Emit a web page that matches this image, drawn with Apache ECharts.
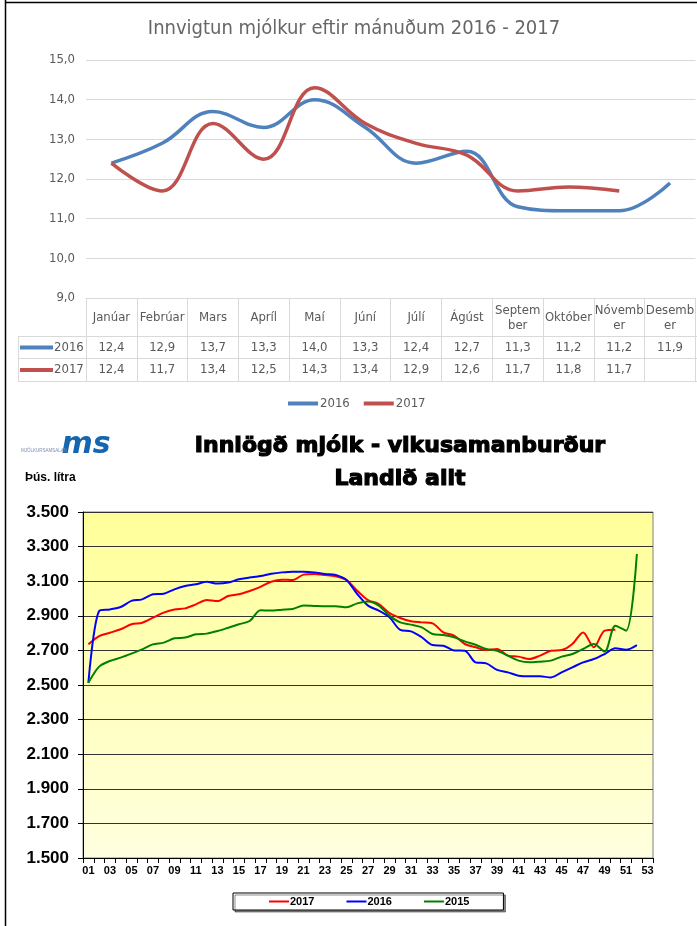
<!DOCTYPE html>
<html><head><meta charset="utf-8">
<script src="https://cdn.jsdelivr.net/npm/echarts@6/dist/echarts.min.js"></script>
<style>html,body{margin:0;padding:0;background:#fff}#c{width:697px;height:926px}</style>
</head><body><div id="c"></div>
<script>
// ---------- Data: monthly chart ----------
const months = ['Janúar','Febrúar','Mars','Apríl','Maí','Júní','Júlí','Ágúst','September','Október','Nóvember','Desember'];
const monthly2016 = [12.4, 12.9, 13.7, 13.3, 14.0, 13.3, 12.4, 12.7, 11.3, 11.2, 11.2, 11.9];
const monthly2017 = [12.4, 11.7, 13.4, 12.5, 14.3, 13.4, 12.9, 12.6, 11.7, 11.8, 11.7, null];

// ---------- Data: weekly chart ----------
const weeks = ['01','02','03','04','05','06','07','08','09','10','11','12','13','14','15','16','17','18','19','20',
  '21','22','23','24','25','26','27','28','29','30','31','32','33','34','35','36','37','38','39','40',
  '41','42','43','44','45','46','47','48','49','50','51','52','53'];
const weekly2017 = [2735,2783,2802,2822,2851,2860,2889,2918,2937,2943,2966,2991,2985,3014,3024,3043,3067,3097,3109,3107,
  3138,3142,3136,3128,3107,3045,2991,2968,2916,2887,2868,2862,2856,2804,2785,2737,2718,2702,2708,2670,
  2664,2650,2670,2698,2702,2737,2804,2718,2814,2820];
const weekly2016 = [2513,2928,2937,2951,2986,2995,3024,3028,3053,3072,3082,3097,3086,3092,3111,3121,3130,3143,3151,3155,
  3155,3151,3142,3136,3107,3026,2959,2930,2891,2818,2810,2776,2731,2727,2700,2698,2631,2625,2587,2573,
  2554,2550,2550,2544,2573,2602,2631,2650,2679,2712,2704,2731];
const weekly2015 = [2513,2606,2639,2658,2681,2706,2735,2745,2770,2774,2793,2797,2812,2831,2851,2870,2932,2930,2935,2939,
  2959,2957,2955,2955,2949,2972,2982,2959,2901,2862,2849,2833,2795,2789,2776,2752,2733,2708,2698,2670,
  2641,2631,2635,2641,2664,2679,2708,2737,2693,2843,2814,3257];

const GRAY = '#595959';
const NARROW = "'Liberation Sans Narrow','DejaVu Sans Condensed',sans-serif";
const ARIAL = "'Liberation Sans',Arial,sans-serif";
const BLUE = '#4F81BD', RED = '#C0504D';

const chart = echarts.init(document.getElementById('c'));

const option = {
  animation: false,
  grid: [
    { left: 86, top: 60, width: 614, height: 238 },
    { left: 83, top: 512, width: 570, height: 346, show: true, borderColor: '#808080', borderWidth: 1,
      backgroundColor: { type: 'linear', x: 0, y: 0, x2: 0, y2: 1,
        colorStops: [{ offset: 0, color: '#FFFF99' }, { offset: 1, color: '#FFFFE0' }] } }
  ],
  xAxis: [
    { gridIndex: 0, type: 'category', data: months, boundaryGap: true,
      axisLine: { lineStyle: { color: '#D9D9D9', width: 1 } },
      axisTick: { show: true, length: 83, interval: 0, lineStyle: { color: '#D9D9D9' } },
      axisLabel: { interval: 0, margin: 20, verticalAlign: 'middle', color: GRAY, fontFamily: NARROW, fontSize: 13, lineHeight: 15,
        formatter: n => n.length >= 8 ? n.slice(0, 6) + '\n' + n.slice(6) : n } },
    { gridIndex: 1, type: 'category', data: weeks, boundaryGap: true,
      axisLine: { lineStyle: { color: '#000', width: 1 } },
      axisTick: { show: true, length: 5, interval: 0, lineStyle: { color: '#000' } },
      axisLabel: { interval: 1, margin: 7, color: '#000', fontFamily: ARIAL, fontWeight: 'bold', fontSize: 11 } }
  ],
  yAxis: [
    { gridIndex: 0, type: 'value', min: 9, max: 15, interval: 1,
      axisLine: { show: false }, axisTick: { show: false },
      splitLine: { lineStyle: { color: '#D9D9D9', width: 1 } },
      axisLabel: { margin: 11, color: GRAY, fontFamily: NARROW, fontSize: 13,
        formatter: v => v.toFixed(1).replace('.', ',') } },
    { gridIndex: 1, type: 'value', min: 1500, max: 3500, interval: 200,
      axisLine: { show: true, lineStyle: { color: '#000' } },
      axisTick: { show: true, length: 5, lineStyle: { color: '#000' } },
      splitLine: { lineStyle: { color: '#333', width: 1 } },
      axisLabel: { margin: 14, color: '#000', fontFamily: ARIAL, fontWeight: 'bold', fontSize: 17,
        formatter: v => (v / 1000).toFixed(3) } }
  ],
  legend: [
    { left: 288, top: 397, padding: 0, itemGap: 14, itemWidth: 30, itemHeight: 4, icon: 'rect',
      data: ['2016', '2017'], textStyle: { color: GRAY, fontFamily: NARROW, fontSize: 13, padding: [0, 0, 0, -3] } },
    { left: 233, top: 893, padding: [3, 34, 3, 36], itemGap: 32, itemWidth: 20, itemHeight: 2, icon: 'rect',
      backgroundColor: '#fff', borderColor: '#000', borderWidth: 1,
      shadowColor: 'rgba(0,0,0,0.45)', shadowOffsetX: 2, shadowOffsetY: 2, shadowBlur: 0,
      data: ['w2017', 'w2016', 'w2015'], formatter: n => n.slice(1),
      textStyle: { color: '#000', fontFamily: ARIAL, fontWeight: 'bold', fontSize: 11, padding: [0, 0, 0, -4] } }
  ],
  series: [
    { name: '2016', type: 'line', xAxisIndex: 0, yAxisIndex: 0, data: monthly2016, smooth: 0.4, symbol: 'none',
      lineStyle: { width: 3.5, color: BLUE }, itemStyle: { color: BLUE } },
    { name: '2017', type: 'line', xAxisIndex: 0, yAxisIndex: 0, data: monthly2017, smooth: 0.4, symbol: 'none',
      lineStyle: { width: 3.5, color: RED }, itemStyle: { color: RED } },
    { name: 'w2017', type: 'line', xAxisIndex: 1, yAxisIndex: 1, data: weekly2017, smooth: 0.3, symbol: 'none',
      lineStyle: { width: 2, color: '#FF0000' }, itemStyle: { color: '#FF0000' } },
    { name: 'w2016', type: 'line', xAxisIndex: 1, yAxisIndex: 1, data: weekly2016, smooth: 0.3, symbol: 'none',
      lineStyle: { width: 2, color: '#0000FF' }, itemStyle: { color: '#0000FF' } },
    { name: 'w2015', type: 'line', xAxisIndex: 1, yAxisIndex: 1, data: weekly2015, smooth: 0.3, symbol: 'none',
      lineStyle: { width: 2, color: '#008000' }, itemStyle: { color: '#008000' } }
  ]
};
chart.setOption(option);

// ---------- Decorations, titles and the data table ----------
const g = [];
const line = (x1, y1, x2, y2, color, w) => g.push({ type: 'line', silent: true,
  shape: { x1, y1, x2, y2 }, style: { stroke: color, lineWidth: w || 1 } });
const text = (x, y, t, st) => g.push({ type: 'text', silent: true, x, y,
  style: Object.assign({ text: t, align: 'center', verticalAlign: 'middle' }, st) });

// outer frame
line(5.5, 0, 5.5, 926, '#000', 1.5);
line(5, 2.5, 697, 2.5, '#000', 1.5);

// top title
text(354, 29, 'Innvigtun mjólkur eftir mánuðum 2016 - 2017', { fill: '#666', fontFamily: NARROW, fontSize: 20 });

// table lines
const rowY = [347.5, 370];
line(18, 336.5, 700, 336.5, '#D9D9D9');
line(18, 358.5, 700, 358.5, '#D9D9D9');
line(18, 381.5, 700, 381.5, '#D9D9D9');
line(18.5, 336, 18.5, 382, '#D9D9D9');
// legend keys in table
const keys = [['2016', BLUE], ['2017', RED]];
keys.forEach((k, r) => {
  line(20, rowY[r], 53, rowY[r], k[1], 4);
  text(54, rowY[r], k[0], { fill: GRAY, fontFamily: NARROW, fontSize: 13, align: 'left' });
});
const fmt = v => v == null ? '' : v.toFixed(1).replace('.', ',');
[monthly2016, monthly2017].forEach((arr, r) => {
  arr.forEach((v, i) => {
    const x = chart.convertToPixel({ xAxisIndex: 0 }, months[i]);
    text(x, rowY[r], fmt(v), { fill: GRAY, fontFamily: NARROW, fontSize: 13 });
  });
});

// bottom titles
const titleSt = { fill: '#000', fontFamily: "'DejaVu Sans',sans-serif", fontWeight: 'bold', fontSize: 22, stroke: '#000', lineWidth: 1.2 };
text(400, 446, 'Innlögð mjólk - vikusamanburður', titleSt);
text(400, 479, 'Landið allt', titleSt);
text(25, 478, 'Þús. lítra', { fill: '#000', fontFamily: ARIAL, fontWeight: 'bold', fontSize: 12, align: 'left' });
// logo
text(86, 445, 'ms', { fill: '#1466B0', fontFamily: "'DejaVu Sans'", fontWeight: 'bold', fontSize: 30, fontStyle: 'italic' });
text(21, 451, 'MJÓLKURSAMSALAN', { fill: '#7a8db0', fontFamily: ARIAL, fontSize: 4.5, align: 'left' });

chart.setOption({ graphic: g });
</script>
</body></html>
